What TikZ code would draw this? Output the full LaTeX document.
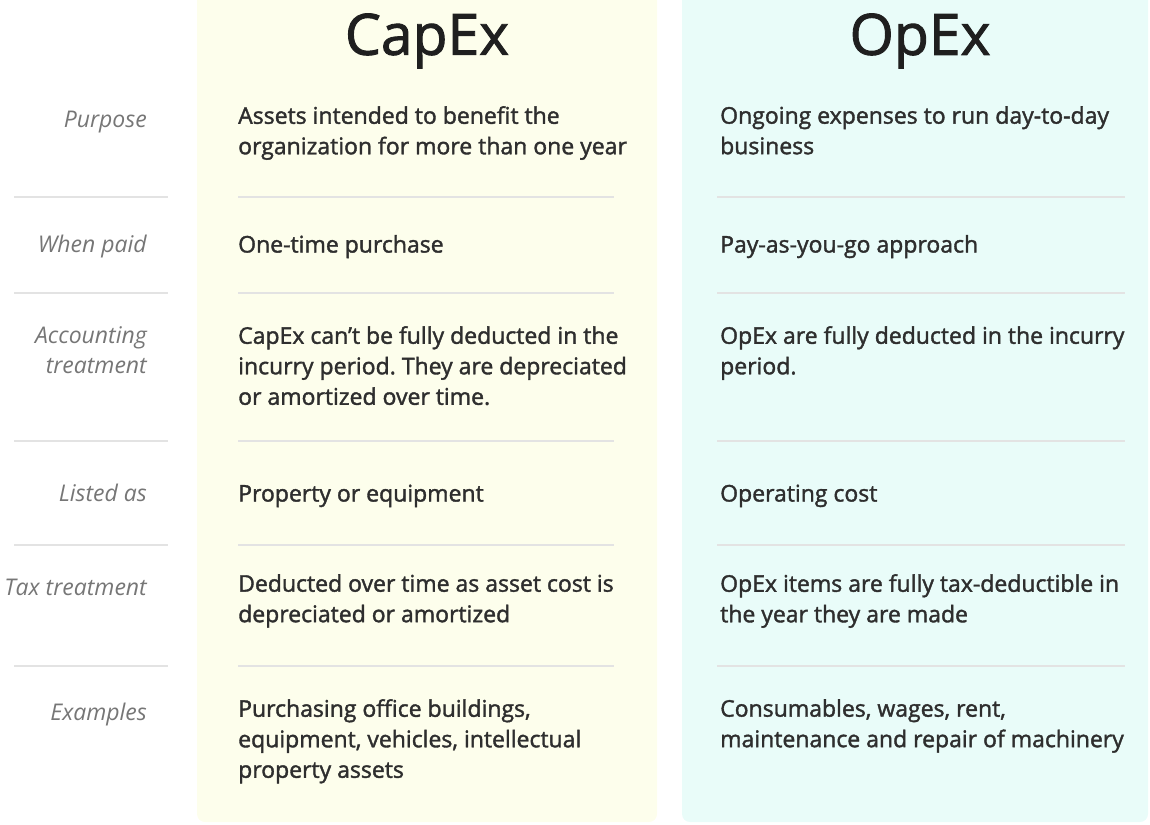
\documentclass[tikz,border=0pt]{standalone}
\usepackage{fontspec}
\setmainfont{Open Sans}
\newfontfamily\semifont{Open Sans}[FakeBold=1.6]
\usepackage{tikz}
\frenchspacing
\definecolor{capcol}{HTML}{FDFEEC}
\definecolor{opcol}{HTML}{E9FCF9}
\definecolor{rulecol}{HTML}{E3E3E3}
\definecolor{textcol}{HTML}{2E2E2E}
\definecolor{labelcol}{HTML}{767676}
\def\bodysize{\fontsize{23}{30.5}\selectfont}
\def\titlesize{\fontsize{57}{60}\selectfont}

\begin{document}
\begin{tikzpicture}[x=1pt, y=-1pt,
    body/.style={anchor=north west, inner sep=0pt, align=left, text=textcol,
      font=\semifont\bodysize, execute at begin node=\strut},
    rowlabel/.style={anchor=north east, inner sep=0pt, align=right, text=labelcol,
      font=\bodysize\itshape, execute at begin node=\strut},
    title/.style={inner sep=0pt, text=black!88, font=\semifont\titlesize},
    rule/.style={draw=rulecol, line width=1.2pt}]
  \useasboundingbox (0, 0) rectangle (1150, 824);
  \fill [fill=capcol, rounded corners=8pt] (197, -20) rectangle (657, 822);
  \fill [fill=opcol, rounded corners=8pt] (682, -20) rectangle (1148, 822);

  \node[title] (capex) at (427, 41) {CapEx};
  \node[title] (opex) at (920, 41) {OpEx};

  \node[rowlabel] (purpose) at (147, 106) {Purpose};
  \node[body] (purposecap) at (238, 106) {Assets intended to benefit the\\organization for more than one year};
  \node[body] (purposeop) at (720, 106) {Ongoing expenses to run day-to-day\\business};
  \draw[rule] (14, 197) -- (168, 197);
  \draw[rule] (238, 197) -- (614, 197);
  \draw[rule] (717, 197) -- (1125, 197);

  \node[rowlabel] (paid) at (147, 231) {When paid};
  \node[body] (paidcap) at (238, 231) {One-time purchase};
  \node[body] (paidop) at (720, 231) {Pay-as-you-go approach};
  \draw[rule] (14, 293) -- (168, 293);
  \draw[rule] (238, 293) -- (614, 293);
  \draw[rule] (717, 293) -- (1125, 293);

  \node[rowlabel] (account) at (147, 326) {Accounting\\treatment};
  \node[body] (accountcap) at (238, 326) {CapEx can’t be fully deducted in the\\incurry period. They are depreciated\\or amortized over time.};
  \node[body] (accountop) at (720, 326) {OpEx are fully deducted in the incurry\\period.};
  \draw[rule] (14, 441) -- (168, 441);
  \draw[rule] (238, 441) -- (614, 441);
  \draw[rule] (717, 441) -- (1125, 441);

  \node[rowlabel] (listed) at (147, 480) {Listed as};
  \node[body] (listedcap) at (238, 480) {Property or equipment};
  \node[body] (listedop) at (720, 480) {Operating cost};
  \draw[rule] (14, 545) -- (168, 545);
  \draw[rule] (238, 545) -- (614, 545);
  \draw[rule] (717, 545) -- (1125, 545);

  \node[rowlabel] (tax) at (147, 574) {Tax treatment};
  \node[body] (taxcap) at (238, 574) {Deducted over time as asset cost is\\depreciated or amortized};
  \node[body] (taxop) at (720, 574) {OpEx items are fully tax-deductible in\\the year they are made};
  \draw[rule] (14, 666) -- (168, 666);
  \draw[rule] (238, 666) -- (614, 666);
  \draw[rule] (717, 666) -- (1125, 666);

  \node[rowlabel] (examples) at (147, 699) {Examples};
  \node[body] (examplescap) at (238, 699) {Purchasing office buildings,\\equipment, vehicles, intellectual\\property assets};
  \node[body] (examplesop) at (720, 699) {Consumables, wages, rent,\\maintenance and repair of machinery};
\end{tikzpicture}
\end{document}
